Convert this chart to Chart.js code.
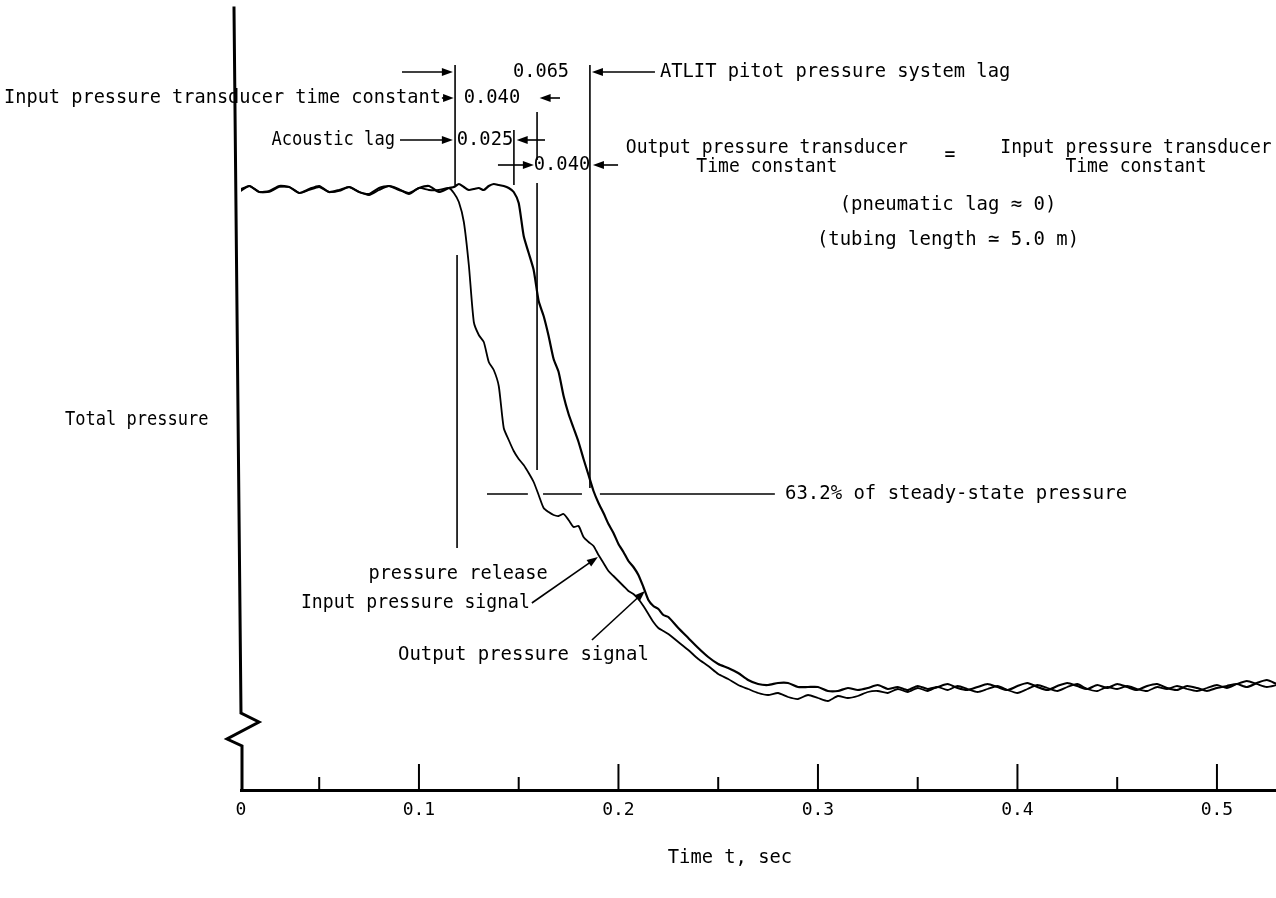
<!DOCTYPE html>
<html><head><meta charset="utf-8">
<script src="https://cdn.jsdelivr.net/npm/chart.js@4.4.1/dist/chart.umd.min.js"></script>
<style>html,body{margin:0;padding:0;background:#fff;}#wrap{width:1276px;height:898px;}</style>
</head><body><div id="wrap"><canvas id="c" width="1276" height="898"></canvas></div>
<script>
// ---- data (time in s, pressure in arbitrary units) ----
const times = [
 0.010,0.015,0.020,0.025,0.030,0.035,0.040,0.045,0.050,0.055,0.060,0.065,0.070,0.075,0.080,0.085,0.090,0.095,0.100,0.105,0.110,
 0.115,0.1175,0.120,0.1225,0.125,0.1275,0.130,0.1325,0.135,0.1375,0.140,0.1425,0.145,0.1475,0.150,0.1525,0.155,0.1575,0.160,0.1625,
 0.165,0.1675,0.170,0.1725,0.175,0.1775,0.180,0.1825,0.185,0.1875,0.190,0.1925,0.195,0.1975,0.200,0.2025,0.205,0.2075,0.210,0.2125,
 0.215,0.2175,0.220,0.2225,
 0.225,0.230,0.235,0.240,0.245,0.250,0.255,0.260,0.265,0.270,0.275,0.280,0.285,0.290,0.295,0.300,0.305,0.310,0.315,0.320,0.325,
 0.330,0.335,0.340,0.345,0.350,0.355,0.360,0.365,0.370,0.375,0.380,0.385,0.390,0.395,0.400,0.405,0.410,0.415,0.420,0.425,0.430,
 0.435,0.440,0.445,0.450,0.455,0.460,0.465,0.470,0.475,0.480,0.485,0.490,0.495,0.500,0.505,0.510,0.515,0.520,0.525,0.530
];
const inputSignal = [
 59.8,60.4,59.8,59.8,60.3,60.3,59.7,60.0,60.3,59.8,59.9,60.3,59.8,59.5,60.0,60.4,60.1,59.6,60.2,60.0,60.0,
 60.2,59.7,58.8,56.8,52.5,46.8,45.5,44.8,42.8,42.0,40.4,36.2,35.0,33.9,33.1,32.5,31.7,30.8,29.5,28.2,
 27.8,27.5,27.4,27.6,27.0,26.3,26.4,25.3,24.8,24.4,23.5,22.7,21.9,21.4,20.9,20.4,19.9,19.6,19.1,18.4,
 17.6,16.8,16.2,15.9,
 15.6,14.8,14.0,13.1,12.4,11.6,11.1,10.5,10.1,9.7,9.5,9.7,9.3,9.1,9.5,9.2,8.9,9.4,9.2,9.4,9.8,
 9.9,9.7,10.1,9.8,10.2,9.9,10.3,10.0,10.4,10.1,9.8,10.1,10.4,10.0,9.7,10.1,10.5,10.2,9.9,10.3,10.6,
 10.1,9.9,10.3,10.1,10.4,10.1,9.9,10.3,10.1,10.4,10.1,9.9,10.2,10.5,10.2,10.6,10.9,10.6,10.3,10.5
];
const outputSignal = [
 60.0,60.4,59.8,59.9,60.4,60.3,59.7,60.1,60.4,59.8,60.0,60.3,59.8,59.6,60.2,60.4,60.0,59.7,60.2,60.4,59.8,
 60.2,60.3,60.6,60.3,60.0,60.1,60.2,60.0,60.4,60.6,60.5,60.4,60.2,59.8,58.7,55.4,53.7,52.0,48.9,47.4,
 45.4,43.1,41.8,39.4,37.6,36.2,34.8,33.1,31.5,29.9,28.7,27.7,26.6,25.7,24.6,23.8,22.9,22.3,21.5,20.3,
 19.0,18.4,18.1,17.5,
 17.3,16.2,15.2,14.2,13.3,12.6,12.2,11.7,11.0,10.6,10.5,10.7,10.7,10.3,10.3,10.3,9.9,9.9,10.2,10.0,10.2,
 10.5,10.1,10.3,10.0,10.4,10.1,10.3,10.6,10.2,10.0,10.3,10.6,10.3,10.0,10.4,10.7,10.3,10.0,10.4,10.7,
 10.4,10.1,10.5,10.2,10.6,10.3,10.0,10.4,10.6,10.2,10.0,10.4,10.2,9.9,10.2,10.4,10.6,10.3,10.7,11.0,10.6
];
const xTickValues = [0, 0.1, 0.2, 0.3, 0.4, 0.5];
const xTickLabels = ['0', '0.1', '0.2', '0.3', '0.4', '0.5'];
const xMinorTicks = [0.05, 0.15, 0.25, 0.35, 0.45];
const xAxisTitle = 'Time t, sec';
const yAxisTitle = 'Total pressure';
const seriesNames = ['Input pressure signal', 'Output pressure signal'];

// ---- annotation layout (data units) ----
const FAMILY = '"DejaVu Sans Mono", "Liberation Mono", monospace';
const TEXT_PX = 20, ADVANCE = 0.602 * TEXT_PX;
const axisBreak = [7.7, 6.8, 5.1, 4.4];
const vLines = [
  {t:0.1181, y1:72.5, y2:60.5},
  {t:0.1191, y1:53.5, y2:24.2},
  {t:0.1476, y1:66.0, y2:60.5},
  {t:0.1592, y1:67.8, y2:63.0},
  {t:0.1592, y1:60.7, y2:32.0},
  {t:0.1857, y1:72.5, y2:30.2}
];
const steadyLineY = 29.6;
const steadySegments = [[0.1341,0.1546],[0.1622,0.1817],[0.1907,0.2784]];
const arrows = [
  {t1:0.0915, y1:71.8, t2:0.1170, y2:71.8},
  {t1:0.2183, y1:71.8, t2:0.1867, y2:71.8},
  {t1:0.1115, y1:69.2, t2:0.1174, y2:69.2},
  {t1:0.1707, y1:69.2, t2:0.1605, y2:69.2},
  {t1:0.0905, y1:65.0, t2:0.1170, y2:65.0},
  {t1:0.1632, y1:65.0, t2:0.1490, y2:65.0},
  {t1:0.1396, y1:62.5, t2:0.1576, y2:62.5},
  {t1:0.1998, y1:62.5, t2:0.1872, y2:62.5},
  {t1:0.1566, y1:18.7, t2:0.1897, y2:23.3},
  {t1:0.1867, y1:15.0, t2:0.2133, y2:19.9}
];
// w = character advance in px (reference lettering is condensed)
const texts = [
  {t:0.1612, y:71.8, s:'0.065', a:'center', w:11.2},
  {t:0.2208, y:71.8, s:'ATLIT pitot pressure system lag', a:'left', w:11.3},
  {t:0.1110, y:69.2, s:'Input pressure transducer time constant', a:'right', w:11.2},
  {t:0.1366, y:69.2, s:'0.040', a:'center', w:11.3},
  {t:0.0880, y:65.0, s:'Acoustic lag', a:'right', w:10.3},
  {t:0.1331, y:65.0, s:'0.025', a:'center', w:11.3},
  {t:0.1717, y:62.5, s:'0.040', a:'center', w:11.3},
  {t:0.2744, y:64.2, s:'Output pressure transducer', a:'center', w:10.85},
  {t:0.2744, y:62.3, s:'Time constant', a:'center', w:10.85},
  {t:0.3662, y:63.5, s:'=', a:'center', w:10.85},
  {t:0.4594, y:64.2, s:'Input pressure transducer', a:'center', w:10.85},
  {t:0.4594, y:62.3, s:'Time constant', a:'center', w:10.85},
  {t:0.3652, y:58.5, s:'(pneumatic lag \u2248 0)', a:'center', w:11.4},
  {t:0.3652, y:55.0, s:'(tubing length \u2243 5.0 m)', a:'center', w:11.4},
  {t:0.2835, y:29.6, s:'63.2% of steady-state pressure', a:'left', w:11.4},
  {t:0.1196, y:21.6, s:'pressure release', a:'center', w:11.2},
  {t:0.1556, y:18.7, s:seriesNames[0], a:'right', w:10.9},
  {t:0.0895, y:13.5, s:seriesNames[1], a:'left', w:11.4},
  {t:-0.0774, y:37.0, s:yAxisTitle, a:'left', w:10.25},
  {t:0.2559, y:-6.8, s:xAxisTitle, a:'center', w:11.3}
];

const annotPlugin = {
  id: 'annot',
  afterDatasetsDraw(chart) {
    const {ctx, chartArea: a, scales: {x, y}} = chart;
    const X = v => x.getPixelForValue(v), Y = v => y.getPixelForValue(v);
    ctx.save();
    ctx.strokeStyle = '#000'; ctx.fillStyle = '#000';
    // y axis with break symbol
    ctx.lineWidth = 3; ctx.lineJoin = 'miter'; ctx.lineCap = 'square';
    ctx.beginPath();
    ctx.moveTo(a.left - 7, a.top);
    ctx.lineTo(a.left, Y(axisBreak[0]));
    ctx.lineTo(a.left + 18, Y(axisBreak[1]));
    ctx.lineTo(a.left - 14, Y(axisBreak[2]));
    ctx.lineTo(a.left + 1, Y(axisBreak[3]));
    ctx.lineTo(a.left + 1, a.bottom);
    ctx.stroke();
    // tick marks (drawn upward)
    ctx.lineWidth = 2; ctx.lineCap = 'butt';
    xTickValues.slice(1).forEach(v => { ctx.beginPath(); ctx.moveTo(X(v), a.bottom); ctx.lineTo(X(v), a.bottom - 26); ctx.stroke(); });
    xMinorTicks.forEach(v => { ctx.beginPath(); ctx.moveTo(X(v), a.bottom); ctx.lineTo(X(v), a.bottom - 13); ctx.stroke(); });
    // vertical reference lines
    ctx.lineWidth = 1.6;
    vLines.forEach(l => { ctx.beginPath(); ctx.moveTo(X(l.t), Y(l.y1)); ctx.lineTo(X(l.t), Y(l.y2)); ctx.stroke(); });
    steadySegments.forEach(s => { ctx.beginPath(); ctx.moveTo(X(s[0]), Y(steadyLineY)); ctx.lineTo(X(s[1]), Y(steadyLineY)); ctx.stroke(); });
    // arrows
    arrows.forEach(r => {
      const x1 = X(r.t1), y1 = Y(r.y1), x2 = X(r.t2), y2 = Y(r.y2);
      const ang = Math.atan2(y2 - y1, x2 - x1);
      const len = Math.hypot(x2 - x1, y2 - y1);
      const head = Math.min(11, len * 0.9);
      ctx.lineWidth = 1.6;
      ctx.beginPath(); ctx.moveTo(x1, y1); ctx.lineTo(x2 - Math.cos(ang) * head * 0.5, y2 - Math.sin(ang) * head * 0.5); ctx.stroke();
      ctx.beginPath();
      ctx.moveTo(x2, y2);
      ctx.lineTo(x2 - head * Math.cos(ang) + 4 * Math.sin(ang), y2 - head * Math.sin(ang) - 4 * Math.cos(ang));
      ctx.lineTo(x2 - head * Math.cos(ang) - 4 * Math.sin(ang), y2 - head * Math.sin(ang) + 4 * Math.cos(ang));
      ctx.closePath(); ctx.fill();
    });
    // texts (condensed horizontally to match the typewriter lettering)
    ctx.textBaseline = 'middle';
    ctx.font = TEXT_PX + 'px ' + FAMILY;
    texts.forEach(tx => {
      ctx.save();
      ctx.translate(X(tx.t), Y(tx.y));
      ctx.scale(tx.w / ADVANCE, 1);
      ctx.textAlign = tx.a;
      ctx.fillText(tx.s, 0, 0);
      ctx.restore();
    });
    ctx.restore();
  }
};

new Chart(document.getElementById('c'), {
  type: 'line',
  data: {
    datasets: [
      { label: seriesNames[0], data: times.map((t, i) => ({x: t, y: inputSignal[i]})),
        borderColor: '#000', borderWidth: 1.8, pointRadius: 0, tension: 0.2, fill: false },
      { label: seriesNames[1], data: times.map((t, i) => ({x: t, y: outputSignal[i]})),
        borderColor: '#000', borderWidth: 2.2, pointRadius: 0, tension: 0.2, fill: false }
    ]
  },
  options: {
    responsive: false, animation: false, devicePixelRatio: 1,
    layout: { padding: { left: 241, right: 0, top: 8, bottom: 66.4 } },
    plugins: { legend: { display: false }, tooltip: { enabled: false } },
    scales: {
      x: {
        type: 'linear', position: 'bottom', min: 0.0108, max: 0.5296,
        grid: { display: false, drawTicks: false },
        border: { display: true, color: '#000', width: 3 },
        afterBuildTicks: s => { s.ticks = xTickValues.map(v => ({ value: Math.max(v, s.min) })); },
        ticks: { color: '#000', font: { family: FAMILY, size: 18 },
                 padding: 10, maxRotation: 0, autoSkip: false,
                 callback: (v, i) => xTickLabels[i] },
        title: { display: false }
      },
      y: { type: 'linear', min: 0, max: 78.2, display: false }
    }
  },
  plugins: [annotPlugin]
});
</script></body></html>
